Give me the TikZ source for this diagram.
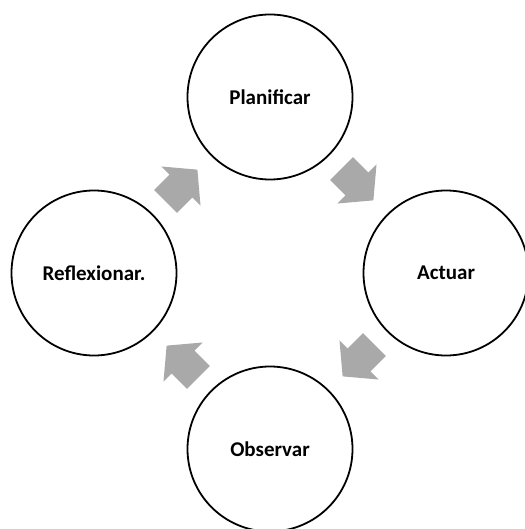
\documentclass[tikz,border=0pt]{standalone}
\usepackage{fontspec}
\setmainfont{Carlito}
\usepackage[svgnames]{xcolor}
\usepackage{tikz}
\usetikzlibrary{positioning,calc,shapes.arrows}
\tikzset{%
	stage/.style={
		circle,
		draw,
		line width=1.8pt,
		minimum size=165pt,
		inner sep=0pt,
		font=\fontsize{21}{25}\selectfont\bfseries
	},
	stage-arrow/.style={
		single arrow,
		draw=none,
		fill=DarkGray,
		inner xsep=0pt,
		inner ysep=16pt,
		minimum height=45pt,
		minimum width=55pt,
		single arrow head extend=11.5pt,
		single arrow tip angle=100,
		anchor=tip
	},
}

\begin{document}
\begin{tikzpicture}[x=1pt, y=-1pt]
\useasboundingbox (0,0) rectangle (524,529);
% stages
\foreach \s/\p [count=\i] in {Planificar/{(270,97)},Actuar/{(446,273)},Observar/{(270,449)},Reflexionar./{(94,273)}}
	\node[stage] (stage-\i) at \p {\s};

% arrows between stages
\foreach \i/\j/\a in {1/2/-45, 2/3/-135, 3/4/135, 4/1/45}
	\node[stage-arrow, rotate=\a] (arrow-\i) at ($(stage-\i)!0.5!(stage-\j)!22pt!(stage-\j)$) {};

\end{tikzpicture}
\end{document}
